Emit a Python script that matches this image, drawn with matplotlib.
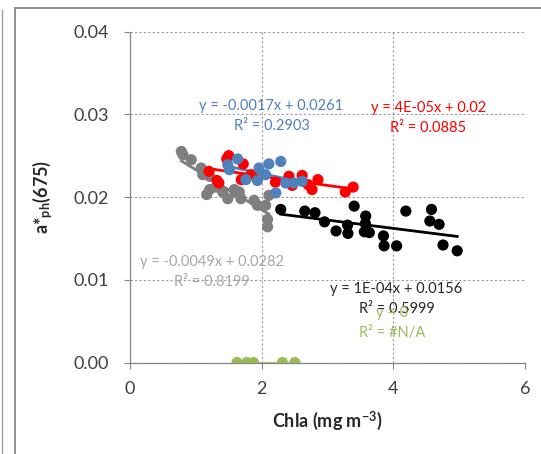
import numpy as np
import matplotlib
matplotlib.use("Agg")
import matplotlib.pyplot as plt
from matplotlib.lines import Line2D
from matplotlib.patches import Rectangle

plt.rcParams['font.family'] = ['Lato', 'DejaVu Sans']
plt.rcParams['mathtext.fontset'] = 'custom'
plt.rcParams['mathtext.rm'] = 'Lato'
plt.rcParams['mathtext.bf'] = 'Lato:bold'
plt.rcParams['mathtext.it'] = 'Lato:italic'

# data
gray_x = [0.78, 0.805, 0.93, 1.08, 1.105, 1.21, 1.165, 1.21, 1.31, 1.41, 1.485,
          1.585, 1.60, 1.66, 1.685, 1.885, 1.935, 2.06, 2.11, 2.09, 2.09]
gray_y = [0.0255, 0.0251, 0.0245, 0.0235, 0.0227, 0.0209, 0.0203, 0.0225, 0.0212,
          0.0206, 0.0198, 0.0209, 0.0206, 0.0206, 0.0198, 0.0196, 0.0190, 0.0190,
          0.0202, 0.0173, 0.0164]

red_x = [1.50, 1.72, 1.20, 1.35, 1.69, 1.84, 2.21, 2.415, 2.465, 2.615, 2.705,
         2.765, 2.855, 3.27, 3.39, 1.47, 1.32]
red_y = [0.0250, 0.0240, 0.0231, 0.0217, 0.0221, 0.0227, 0.0218, 0.0225, 0.0214,
         0.0226, 0.0215, 0.0209, 0.0221, 0.0206, 0.0212, 0.0246, 0.0220]

blue_x = [1.635, 1.485, 1.51, 1.96, 2.11, 2.29, 1.76, 1.935, 2.06, 2.215, 2.365,
          2.49, 2.615]
blue_y = [0.0246, 0.0239, 0.0233, 0.0235, 0.0240, 0.0243, 0.0221, 0.0220, 0.0227,
          0.0205, 0.0217, 0.0217, 0.0219]

black_x = [2.29, 2.655, 2.81, 2.955, 3.13, 3.305, 3.31, 3.405, 3.58, 3.575, 3.56,
           3.635, 3.85, 3.86, 4.05, 4.19, 4.58, 4.555, 4.695, 4.755, 4.97]
black_y = [0.0185, 0.0183, 0.0181, 0.0170, 0.0159, 0.0166, 0.0156, 0.0189, 0.0177,
           0.0168, 0.0158, 0.0157, 0.0153, 0.0141, 0.0141, 0.0183, 0.0185, 0.0171,
           0.0167, 0.0142, 0.0135]

green_x = [1.625, 1.775, 1.875, 2.315, 2.505]
green_y = [0.0, 0.0, 0.0, 0.0, 0.0]

series = [
    (gray_x, gray_y, '#7F7F7F'),
    (red_x, red_y, '#FF0000'),
    (blue_x, blue_y, '#4F81BD'),
    (black_x, black_y, '#000000'),
    (green_x, green_y, '#9BBB59'),
]

labels = [
    ("y = -0.0017x + 0.0261\nR² = 0.2903", 2.15, 0.0298, '#4F81BD'),
    ("y = 4E-05x + 0.02\nR² = 0.0885", 4.53, 0.02955, '#FF0000'),
    ("y = -0.0049x + 0.0282\nR² = 0.8199", 1.25, 0.0109, '#A6A6A6'),
    ("y = 1E-04x + 0.0156\nR² = 0.5999", 4.05, 0.0077, '#262626'),
    ("y = 0\nR² = #N/A", 3.98, 0.0048, '#9BBB59'),
]

fig = plt.figure(figsize=(5.41, 4.54), dpi=100)
ax = fig.add_axes([0.2403, 0.2015, 0.7301, 0.7291])

for xs, ys, c in series:
    xs = np.array(xs)
    ys = np.array(ys)
    k, b = np.polyfit(xs, ys, 1)
    xl = np.array([xs.min(), xs.max()])
    ax.plot(xl, k * xl + b, color=c, lw=2, zorder=3)
    ax.scatter(xs, ys, s=65, color=c, edgecolors='none', zorder=4)

for txt, tx, ty, c in labels:
    ax.text(tx, ty, txt, color=c, fontsize=10.5, ha='center', va='center',
            linespacing=1.55, zorder=5)

ax.set_xlim(0, 6)
ax.set_ylim(0, 0.04)
ax.set_xticks([0, 2, 4, 6])
ax.set_yticks([0, 0.01, 0.02, 0.03, 0.04])
ax.set_yticklabels(['0.00', '0.01', '0.02', '0.03', '0.04'])
ax.tick_params(colors='#868686', labelcolor='#404040', labelsize=13, length=4,
               width=0.8)
ax.tick_params(axis='x', pad=9)
ax.tick_params(axis='y', pad=11)

ax.grid(True, color='#9A9A9A', linestyle=(0, (2, 2)), linewidth=0.8)
ax.set_axisbelow(True)
for side in ['top', 'right']:
    ax.spines[side].set_visible(False)
for side in ['left', 'bottom']:
    ax.spines[side].set_color('#868686')
    ax.spines[side].set_linewidth(0.9)
ax.spines['left'].set_zorder(6)

ax.set_xlabel('Chla (mg m$^{\\mathbf{-3}}$)', fontsize=13, fontweight='bold',
              color='#262626', labelpad=9)
ax.set_ylabel('a*$_{\\mathbf{ph}}$(675)', fontsize=13, fontweight='bold',
              color='#262626')
ax.yaxis.set_label_coords(-0.19, 0.5)

# chart frame
fig.patches.append(Rectangle((15 / 541, -0.1), 1.2, (454 - 8) / 454 + 0.1,
                             transform=fig.transFigure, fill=False,
                             edgecolor='#868686', linewidth=1.3))
fig.lines.append(Line2D([1.5 / 541, 1.5 / 541], [0, (454 - 10) / 454],
                        transform=fig.transFigure, color='#A0A0A0', lw=1))

fig.savefig('out.png', dpi=100)
